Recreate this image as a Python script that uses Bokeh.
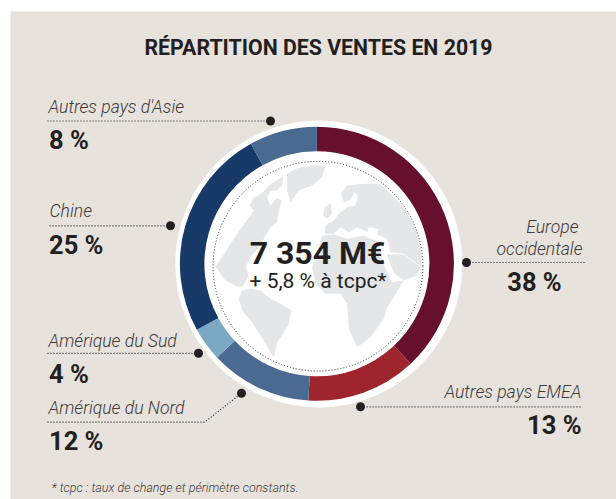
from bokeh.plotting import figure
from bokeh.models import Range1d
from bokeh.core.properties import value
from bokeh.embed import file_html
from bokeh.resources import INLINE
import math

W, H = 616, 499

# ---- data
categories = ["Europe occidentale", "Autres pays EMEA", "Amérique du Nord", "Amérique du Sud", "Chine", "Autres pays d'Asie"]
shares = [38, 13, 12, 4, 25, 8]
ring_colors = ["#66102E", "#9E252E", "#4A6A92", "#7BA9C4", "#173A68", "#4A6A92"]
title = "RÉPARTITION DES VENTES EN 2019"
total_label = "7 354 M€"
growth_label = "+ 5,8 % à tcpc*"
footnote = "* tcpc : taux de change et périmètre constants."

# ---- map outlines (decorative background, traced in a 3x zoom frame)
north_america = [(237,285),(250,262),(272,250),(300,222),(325,205),(338,200),(335,225),(318,240),(300,240),(290,262),(300,285),(320,262),(335,270),(325,300),(320,335),(300,350),(285,375),(270,405),(240,440),(225,470),(235,495),(218,525),(205,530),(165,510),(135,468),(160,432),(190,385),(225,335),(250,300)]
greenland = [(350,190),(375,175),(420,165),(465,165),(455,200),(425,225),(385,240),(360,275),(350,240)]
south_america = [(205,565),(215,540),(240,535),(270,540),(300,565),(330,580),(363,600),(355,640),(340,665),(320,695),(313,730),(310,740),(300,725),(270,675),(245,635),(215,600)]
eurasia = [(530,225),(512,250),(520,275),(540,268),(552,245),(562,255),(555,285),(530,290),(505,310),(490,330),(465,345),(462,370),(490,370),(510,350),(535,365),(560,350),(590,365),(595,350),(625,355),(620,372),(650,385),(660,425),(700,430),(752,468),(755,440),(752,420),(735,350),(700,290),(650,240),(625,220),(585,220)]
britain = [(462,290),(480,278),(485,310),(470,325),(458,315)]
africa = [(455,375),(490,372),(530,385),(580,375),(625,395),(640,465),(665,515),(700,510),(685,535),(650,590),(640,625),(600,680),(560,710),(535,655),(530,580),(510,550),(465,550),(435,520),(425,470)]
arabia = [(648,432),(700,432),(750,470),(740,495),(700,510),(672,490)]
continents = [north_america, greenland, south_america, eurasia, britain, africa, arabia]

def X(px): return px
def Y(py): return H - py

p = figure(width=W, height=H, x_range=Range1d(0, W), y_range=Range1d(0, H),
           output_backend="svg", toolbar_location=None, min_border=0)
p.axis.visible = False
p.grid.visible = False
p.outline_line_color = None
p.background_fill_color = "white"
p.border_fill_color = "white"

p.quad(left=[X(10)], right=[X(640)], bottom=[Y(520)], top=[Y(11)], fill_color="#E7E2DC", line_color=None)

# white halo, ring
p.circle(x=[X(318.3)], y=[Y(263.5)], radius=143.5, fill_color="white", line_color=None)
cx, cy = X(316.4), Y(263.3)
cum = 0
for s, c in zip(shares, ring_colors):
    a0 = math.pi/2 - 2*math.pi*cum/sum(shares)
    a1 = math.pi/2 - 2*math.pi*(cum+s)/sum(shares)
    p.annular_wedge(x=[cx], y=[cy], inner_radius=112.5, outer_radius=137, start_angle=a0, end_angle=a1,
                    direction="clock", fill_color=c, line_color=None)
    cum += s

# map
p.patches(xs=[[X(170+a/3) for a, b in c] for c in continents],
          ys=[[Y(110+b/3) for a, b in c] for c in continents],
          fill_color="#E5E6E8", line_color=None)
p.circle(x=[X(317.5)], y=[Y(265.7)], radius=104.9, fill_color=None, line_color="#333333", line_width=1, line_dash="1 2")

# leaders
ink = "#231F20"
leaders = [
    ([47, 270], [120.5, 120.5]),
    ([49, 170], [225.3, 225.3]),
    ([47, 198], [352.8, 352.8]),
    ([47, 204, 241], [421.7, 421.7, 392.8]),
    ([466, 584], [262, 262]),
    ([360, 582], [406.3, 406.3]),
]
for xs, ys in leaders:
    p.line([X(v) for v in xs], [Y(v) for v in ys], line_color=ink, line_width=1.2, line_dash="1 2")
    p.scatter([X(xs[-1] if xs[0] < 300 else xs[0])], [Y(ys[-1] if xs[0] < 300 else ys[0])],
              size=9, marker="circle", fill_color=ink, line_color=None)

def T(px, py, s, size, font="Roboto", style="normal", align="left", color=ink):
    p.text(x=[X(px)], y=[Y(py - 0.37*size)], text=[s], text_font=value(font), text_font_size=f"{size}px",
           text_font_style=style, text_align=align, text_baseline="alphabetic", text_color=color)

light = "#3E3B3B"
LS = 17.6
VS = 25.5
T(318, 55, title, 21.3, style="bold", align="center")
T(48, 113, categories[5], LS, "Roboto Light", "italic", color=light)
T(48.5, 149, f"{shares[5]} %", VS, style="bold")
T(49, 217.3, categories[4], LS, "Roboto Light", "italic", color=light)
T(48.5, 254, f"{shares[4]} %", VS, style="bold")
T(48, 346.7, categories[3], LS, "Roboto Light", "italic", color=light)
T(48.5, 383, f"{shares[3]} %", VS, style="bold")
T(48, 414.3, categories[2], LS, "Roboto Light", "italic", color=light)
T(48.5, 450.3, f"{shares[2]} %", VS, style="bold")
T(578, 232.7, "Europe", LS, "Roboto Light", "italic", "right", light)
T(582, 255, "occidentale", LS, "Roboto Light", "italic", "right", light)
T(534, 290.5, f"{shares[0]} %", VS, style="bold", align="center")
T(581, 398.3, categories[1], LS, "Roboto Light", "italic", "right", light)
T(581, 434, f"{shares[1]} %", VS, style="bold", align="right")
T(317, 264, total_label, 32, style="bold", align="center")
T(317.5, 288.3, growth_label, 21, align="center")
T(51, 491.5, footnote, 12.5, "Roboto Light", "italic", color=light)

open("out.html", "w").write(file_html(p, INLINE))
